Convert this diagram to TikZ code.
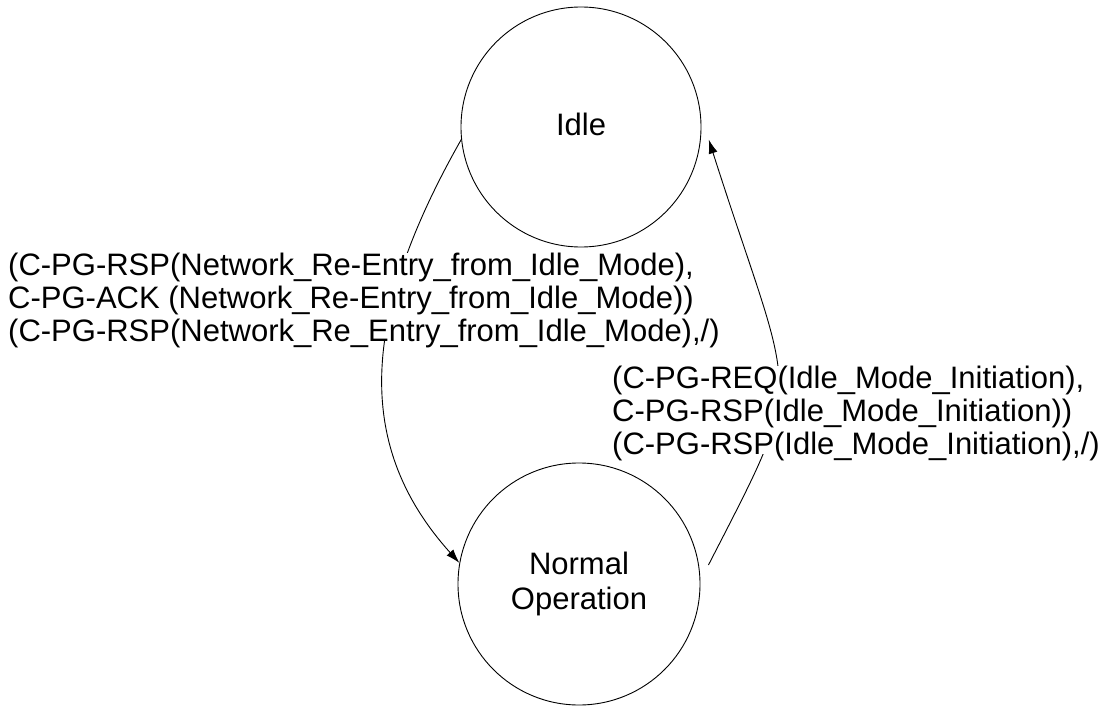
\documentclass[tikz,border=0pt]{standalone}
\usepackage{fontspec}
\setmainfont{Liberation Sans}
\usetikzlibrary{arrows.meta}
\begin{document}
\begin{tikzpicture}[x=1pt,y=-1pt,
  state/.style={circle,draw,line width=0.9pt,inner sep=0pt,align=center,font=\fontsize{31}{35}\selectfont},
  trans/.style={line width=0.9pt,-{Latex[length=14pt,width=9pt]}},
  lbl/.style={fill=white,inner sep=0pt,align=left,anchor=north west,text depth=0pt,font=\fontsize{31}{33}\selectfont}]
\useasboundingbox (0,0) rectangle (1103,706);
\node[state,minimum size=240pt,text depth=5pt] (idle) at (581,127) {Idle};
\node[state,minimum size=242pt] (normal) at (579,584) {Normal\\Operation};
\draw[trans] (idle.186) .. controls (357,323) and (357,449) .. (normal.170);
\draw[trans] ([xshift=9.5pt]normal.9) .. controls (809,369) and (795,410) .. ([xshift=8pt]idle.-6);
\node[lbl] (l1) at (8,252.4) {(C-PG-RSP(Network\_Re-Entry\_from\_Idle\_Mode),\\C-PG-ACK (Network\_Re-Entry\_from\_Idle\_Mode))\\(C-PG-RSP(Network\_Re\_Entry\_from\_Idle\_Mode),/)};
\node[lbl] (l2) at (612,365.4) {(C-PG-REQ(Idle\_Mode\_Initiation),\\C-PG-RSP(Idle\_Mode\_Initiation))\\(C-PG-RSP(Idle\_Mode\_Initiation),/)};
\end{tikzpicture}
\end{document}
